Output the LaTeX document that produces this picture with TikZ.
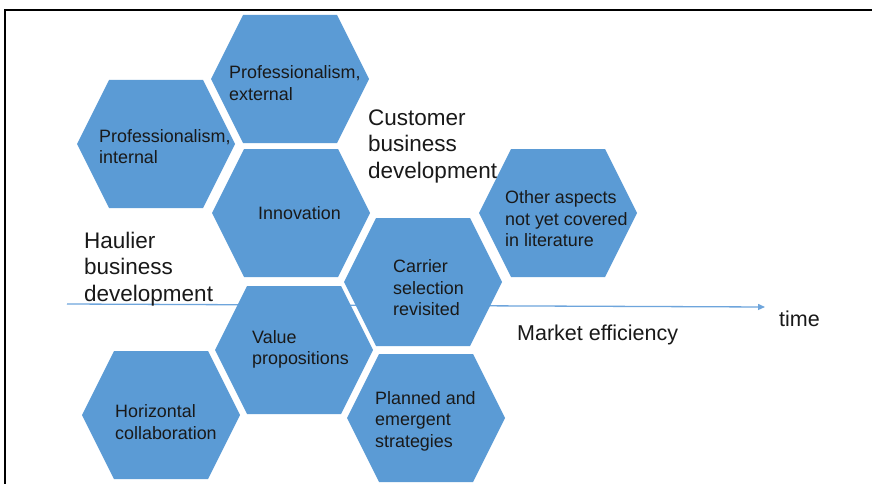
\documentclass[tikz,border=0pt]{standalone}
\usepackage{fontspec}
\setmainfont{Liberation Sans}
\usetikzlibrary{arrows.meta}
\definecolor{hexblue}{RGB}{91,155,213}
\definecolor{arrowblue}{RGB}{110,165,220}
\definecolor{txt}{RGB}{25,25,25}
\tikzset{
  hexfill/.style={fill=hexblue},
  hextext/.style={anchor=west, align=left, inner sep=0pt, text=txt,
    font=\fontsize{17.9}{21.5}\selectfont},
  bigtext/.style={anchor=west, align=left, inner sep=0pt, text=txt,
    font=\fontsize{22.5}{26.5}\selectfont},
  midtext/.style={anchor=west, inner sep=0pt, text=txt,
    font=\fontsize{21.5}{25}\selectfont},
}
\newcommand{\hexpath}[1]{\fill[hexfill] (#1) ++(-79,0) -- ++(32,-64) -- ++(94,0) -- ++(32,64) -- ++(-32,64) -- ++(-94,0) -- cycle;}
\begin{document}
\begin{tikzpicture}[x=1pt,y=-1pt]
\useasboundingbox (0,0) rectangle (872,484);
\fill[white] (0,0) rectangle (872,484);
% frame
\draw[line width=2pt] (5,484) -- (5,10) -- (872,10);
% time axis
\coordinate (as) at (67,304);
\coordinate (ae) at (765,307);
\draw[arrowblue, line width=1.3pt, -{Triangle[length=7pt,width=6pt]}] (as) -- (ae);
% hexagon centres
\coordinate (pi) at (156,144);
\coordinate (pe) at (290,79);
\coordinate (inn) at (291,213);
\coordinate (vp) at (294,350);
\coordinate (hc) at (161,415);
\coordinate (cs) at (423,282);
\coordinate (pl) at (426,418);
\coordinate (oa) at (558,213);
\hexpath{pi}
\hexpath{pe}
\hexpath{inn}
\hexpath{vp}
\hexpath{hc}
\hexpath{cs}
\hexpath{pl}
\hexpath{oa}
% hexagon texts
\node[hextext] (tpi) at (99,146.5) {Professionalism,\\internal};
\node[hextext] (tpe) at (229,83) {Professionalism,\\external};
\node[hextext] (tinn) at (258,213) {Innovation};
\node[hextext] (tcs) at (393,288) {Carrier\\selection\\revisited};
\node[hextext] (toa) at (505,219) {Other aspects\\not yet covered\\in literature};
\node[hextext] (tpl) at (375,421) {Planned and\\emergent\\strategies};
\node[hextext] (tvp) at (252,349.5) {Value\\propositions};
\node[hextext] (thc) at (115,422) {Horizontal\\collaboration};
% labels
\node[bigtext] (cust) at (368,146) {Customer\\business\\development};
\node[bigtext] (haul) at (84,269) {Haulier\\business\\development};
\node[midtext] (mkt) at (517,334.5) {Market efficiency};
\node[midtext] (time) at (779,319) {time};
\end{tikzpicture}
\end{document}
